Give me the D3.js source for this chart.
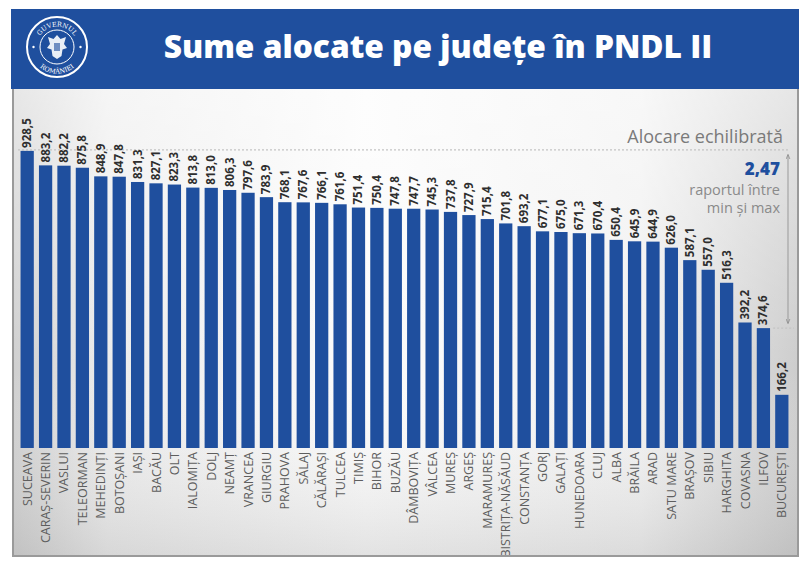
<!DOCTYPE html>
<meta charset="utf-8">
<style>
body { margin: 0; background: #fff; }
svg { display: block; }
</style>
<body>
<script src="https://d3js.org/d3.v7.min.js"></script>
<script>

// data (milioane lei)
var counties = ["SUCEAVA", "CARAȘ-SEVERIN", "VASLUI", "TELEORMAN", "MEHEDINȚI", "BOTOȘANI",
  "IAȘI", "BACĂU", "OLT", "IALOMIȚA", "DOLJ", "NEAMȚ", "VRANCEA", "GIURGIU", "PRAHOVA",
  "SĂLAJ", "CĂLĂRAȘI", "TULCEA", "TIMIȘ", "BIHOR", "BUZĂU", "DÂMBOVIȚA", "VÂLCEA", "MUREȘ",
  "ARGEȘ", "MARAMUREȘ", "BISTRIȚA-NĂSĂUD", "CONSTANȚA", "GORJ", "GALAȚI", "HUNEDOARA",
  "CLUJ", "ALBA", "BRĂILA", "ARAD", "SATU MARE", "BRAȘOV", "SIBIU", "HARGHITA", "COVASNA",
  "ILFOV", "BUCUREȘTI"];
var values = [928.5, 883.2, 882.2, 875.8, 848.9, 847.8, 831.3, 827.1, 823.3, 813.8, 813.0,
  806.3, 797.6, 783.9, 768.1, 767.6, 766.1, 761.6, 751.4, 750.4, 747.8, 747.7, 745.3, 737.8,
  727.9, 715.4, 701.8, 693.2, 677.1, 675.0, 671.3, 670.4, 650.4, 645.9, 644.9, 626.0, 587.1,
  557.0, 516.3, 392.2, 374.6, 166.2];
var title = "Sume alocate pe județe în PNDL II";
var subtitle = "Alocare echilibrată";
var ratioText = "2,47";
var ratioNote = ["raportul între", "min și max"];
var refMax = 928.5, refMin = 374.6;

var W = 805, H = 561;
var blue = "#1f4f9e";

var ro = d3.formatLocale({decimal: ",", thousands: ".", grouping: [3], currency: ["", " lei"]});
var fmt = ro.format(".1f");

var svg = d3.select("body").append("svg")
    .attr("width", W)
    .attr("height", H);

var defs = svg.append("defs");

// panel background gradients
var gx = defs.append("linearGradient").attr("id", "gx")
    .attr("x1", 0).attr("x2", 1).attr("y1", 0).attr("y2", 0);
gx.append("stop").attr("offset", 0).attr("stop-color", "#cfcfcf");
gx.append("stop").attr("offset", 0.12).attr("stop-color", "#ececec");
gx.append("stop").attr("offset", 0.45).attr("stop-color", "#fbfbfb");
gx.append("stop").attr("offset", 0.8).attr("stop-color", "#f1f1f1");
gx.append("stop").attr("offset", 1).attr("stop-color", "#cdcdcd");

var gy = defs.append("linearGradient").attr("id", "gy")
    .attr("x1", 0).attr("x2", 0).attr("y1", 0).attr("y2", 1);
gy.append("stop").attr("offset", 0).attr("stop-color", "#fff").attr("stop-opacity", 0.5);
gy.append("stop").attr("offset", 0.6).attr("stop-color", "#fff").attr("stop-opacity", 0);
gy.append("stop").attr("offset", 1).attr("stop-color", "#999").attr("stop-opacity", 0.25);

defs.append("clipPath").attr("id", "panelClip")
  .append("rect").attr("x", 14).attr("y", 88).attr("width", 783).attr("height", 467);

// outer frame
svg.append("rect")
    .attr("x", 0).attr("y", 0).attr("width", W).attr("height", H)
    .attr("fill", "#fff");
svg.append("rect")
    .attr("x", 13).attr("y", 88).attr("width", 785).attr("height", 468)
    .attr("fill", "url(#gx)")
    .attr("stroke", "#9a9a9a")
    .attr("stroke-width", 2);
svg.append("rect")
    .attr("x", 14).attr("y", 88).attr("width", 783).attr("height", 467)
    .attr("fill", "url(#gy)");

// header
svg.append("rect")
    .attr("x", 11).attr("y", 9).attr("width", 788).attr("height", 80)
    .attr("fill", blue);

// logo
var logo = svg.append("g").attr("transform", "translate(57,47)");
logo.append("circle").attr("r", 30).attr("fill", "none").attr("stroke", "#fff").attr("stroke-width", 2);
logo.append("circle").attr("r", 17).attr("fill", "none").attr("stroke", "#fff").attr("stroke-width", 1);
defs.append("path").attr("id", "arcTop").attr("d", "M -20.5,0 A 20.5 20.5 0 0 1 20.5,0");
defs.append("path").attr("id", "arcBot").attr("d", "M -26.5,0 A 26.5 26.5 0 0 0 26.5,0");
logo.append("text")
    .attr("fill", "#fff").attr("font-family", "DejaVu Serif").attr("font-size", 6.5)
  .append("textPath").attr("href", "#arcTop").attr("startOffset", "50%")
    .attr("text-anchor", "middle").text("GUVERNUL");
logo.append("text")
    .attr("fill", "#fff").attr("font-family", "DejaVu Serif").attr("font-size", 6.5)
  .append("textPath").attr("href", "#arcBot").attr("startOffset", "50%")
    .attr("text-anchor", "middle").text("ROMÂNIEI");
logo.selectAll(".dot")
    .data([-1, 1])
  .enter().append("circle")
    .attr("cx", d => d * 23.5).attr("cy", 0).attr("r", 1.2).attr("fill", "#fff");
// simple eagle/shield glyph
logo.append("path")
    .attr("d", "M0,-12 L3.5,-8 L9,-10 L7,-3 L10,1 L5.5,2.5 L4.5,9 L0,12 L-4.5,9 L-5.5,2.5 L-10,1 L-7,-3 L-9,-10 L-3.5,-8 Z")
    .attr("fill", "#fff").attr("opacity", 0.9);
logo.append("rect").attr("x", -3).attr("y", -4).attr("width", 6).attr("height", 8)
    .attr("fill", blue).attr("opacity", 0.6);

// title
var tt = svg.append("text")
    .attr("x", 438).attr("y", 58)
    .attr("text-anchor", "middle")
    .attr("fill", "#fff")
    .attr("font-family", "'Open Sans', sans-serif")
    .attr("font-weight", 800)
    .attr("font-size", 31)
    .text(title);
var tw = tt.node().getComputedTextLength();
tt.attr("font-size", 31 * 549 / tw);

// scales
var x = d3.scaleBand()
    .domain(counties)
    .range([20, 789])
    .paddingInner(0.28)
    .paddingOuter(0.03);

var y = d3.scaleLinear()
    .domain([0, 1000])
    .range([448, 128]);

// reference lines
svg.append("line")
    .attr("x1", 18).attr("x2", 790)
    .attr("y1", y(refMax) - 1).attr("y2", y(refMax) - 1)
    .attr("stroke", "#c4c4c4").attr("stroke-width", 1.2)
    .attr("stroke-dasharray", "2,2");
svg.append("line")
    .attr("x1", x("BUCUREȘTI") - 2).attr("x2", 794)
    .attr("y1", y(refMin)).attr("y2", y(refMin))
    .attr("stroke", "#c4c4c4").attr("stroke-width", 1.2)
    .attr("stroke-dasharray", "2,2");

// arrow between min and max
defs.append("marker").attr("id", "arr")
    .attr("viewBox", "0 0 10 10").attr("refX", 9).attr("refY", 5)
    .attr("markerWidth", 5).attr("markerHeight", 5).attr("orient", "auto-start-reverse")
  .append("path").attr("d", "M0,1 L10,5 L0,9").attr("fill", "none").attr("stroke", "#888").attr("stroke-width", 1.5);
svg.append("line")
    .attr("x1", 788).attr("x2", 788)
    .attr("y1", y(refMax) + 4).attr("y2", y(refMin) - 5)
    .attr("stroke", "#999").attr("stroke-width", 1)
    .attr("marker-start", "url(#arr)")
    .attr("marker-end", "url(#arr)");

// annotation
svg.append("text")
    .attr("x", 783).attr("y", 143)
    .attr("text-anchor", "end")
    .attr("fill", "#7a7a7a")
    .attr("font-family", "'Open Sans', sans-serif")
    .attr("font-size", 18)
    .text(subtitle);
svg.append("text")
    .attr("x", 780).attr("y", 175)
    .attr("text-anchor", "end")
    .attr("fill", blue)
    .attr("font-family", "'Open Sans', sans-serif")
    .attr("font-weight", 800)
    .attr("font-size", 17)
    .text(ratioText);
svg.selectAll(".note")
    .data(ratioNote)
  .enter().append("text")
    .attr("class", "note")
    .attr("x", 780)
    .attr("y", (d, i) => 195 + i * 18)
    .attr("text-anchor", "end")
    .attr("fill", "#8a8a8a")
    .attr("font-family", "'Open Sans', sans-serif")
    .attr("font-size", 14.5)
    .text(d => d);

// bars
var data = counties.map((c, i) => ({name: c, value: values[i]}));

svg.append("g")
  .selectAll("rect")
    .data(data)
  .enter().append("rect")
    .attr("x", d => x(d.name))
    .attr("y", d => y(d.value))
    .attr("width", x.bandwidth())
    .attr("height", d => y(0) - y(d.value))
    .attr("fill", blue);

// value labels
svg.append("g")
  .selectAll("text")
    .data(data)
  .enter().append("text")
    .attr("transform", d => `translate(${x(d.name) + x.bandwidth() / 2 + 4},${y(d.value) - 3}) rotate(-90)`)
    .attr("fill", "#2e2e2e")
    .attr("font-family", "'Open Sans', sans-serif")
    .attr("font-weight", 700)
    .attr("font-size", 11.5)
    .text(d => fmt(d.value));

// category labels
svg.append("g")
    .attr("clip-path", "url(#panelClip)")
  .selectAll("text")
    .data(data)
  .enter().append("text")
    .attr("transform", d => `translate(${x(d.name) + x.bandwidth() / 2 + 4.5},${y(0) + 4}) rotate(-90)`)
    .attr("text-anchor", "end")
    .attr("fill", "#5e5e5e")
    .attr("font-family", "'Open Sans', sans-serif")
    .attr("font-size", 12.5)
    .text(d => d.name);

</script>
</body>
</html>
